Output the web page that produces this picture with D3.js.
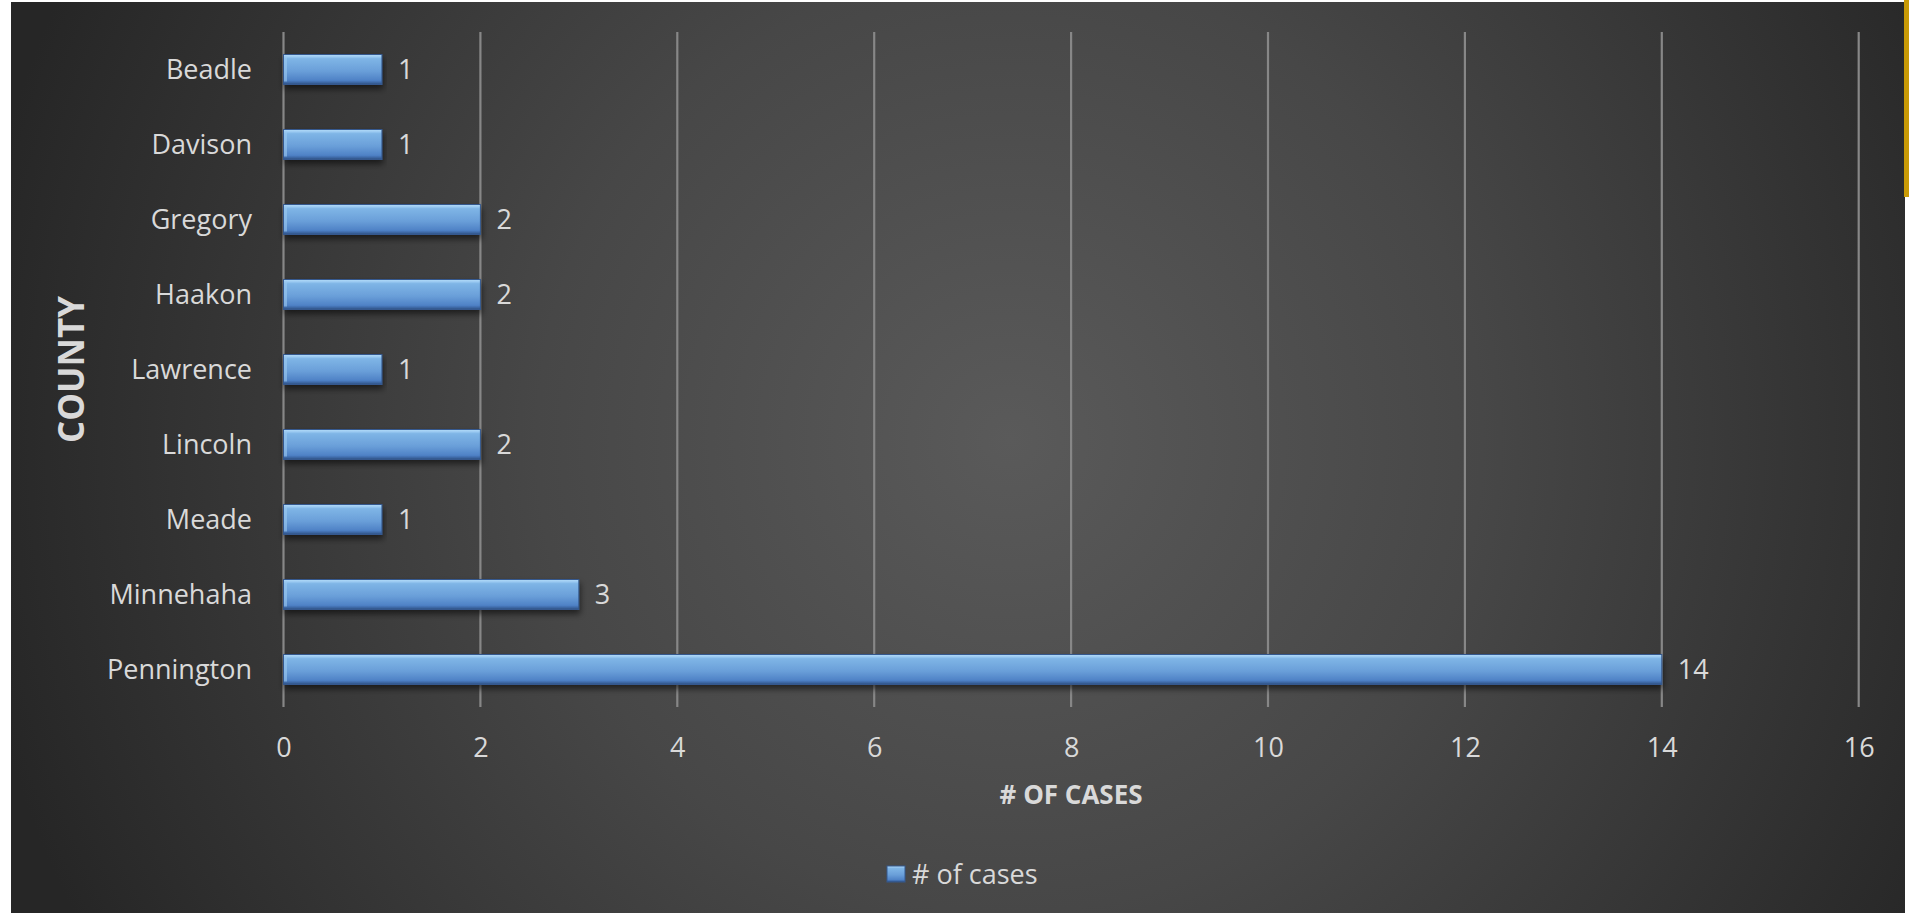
<!DOCTYPE html>
<html>
<head>
<meta charset="utf-8">
<script src="https://cdn.jsdelivr.net/npm/d3@7"></script>
<style>
html,body{margin:0;padding:0;background:#ffffff;overflow:hidden;}
svg{display:block;}
text{font-family:"Open Sans",sans-serif;fill:#d9d9d9;}
</style>
</head>
<body>
<script>
// ---- data ----
const counties = ["Beadle","Davison","Gregory","Haakon","Lawrence","Lincoln","Meade","Minnehaha","Pennington"];
const cases = [1,1,2,2,1,2,1,3,14];
const xTicks = [0,2,4,6,8,10,12,14,16];
const seriesName = "# of cases";
const xTitle = "# OF CASES";
const yTitle = "COUNTY";

const W = 1909, H = 913;
const svg = d3.select("body").append("svg").attr("width", W).attr("height", H);
const defs = svg.append("defs");

// background gradient
const rg = defs.append("radialGradient").attr("id","bg")
  .attr("gradientUnits","userSpaceOnUse").attr("cx",1010).attr("cy",440).attr("r",1050);
rg.append("stop").attr("offset","0%").attr("stop-color","#5a5a5a");
rg.append("stop").attr("offset","45%").attr("stop-color","#474747");
rg.append("stop").attr("offset","100%").attr("stop-color","#262626");

// bar gradient
const bg = defs.append("linearGradient").attr("id","bar").attr("x1",0).attr("y1",0).attr("x2",0).attr("y2",1);
[["0%","#b4dcf8"],["7%","#9dcbf2"],["14%","#7fb5e6"],["55%","#6a9fd9"],["86%","#4f82c6"],["92%","#3f6cac"],["100%","#2d4e80"]]
  .forEach(([o,c])=>bg.append("stop").attr("offset",o).attr("stop-color",c));

const sh = defs.append("filter").attr("id","shadow").attr("x","-5%").attr("y","-50%").attr("width","110%").attr("height","220%");
sh.append("feDropShadow").attr("dx",1).attr("dy",4).attr("stdDeviation",3).attr("flood-color","#000").attr("flood-opacity",0.55);

// chart area
svg.append("rect").attr("x",11).attr("y",2).attr("width",1894).attr("height",H-2).attr("fill","url(#bg)");
svg.append("rect").attr("x",1904).attr("y",0).attr("width",5).attr("height",197).attr("fill","#c99a06");

const plot = {left:283.5, right:1858.7, top:32, bottom:707};
const x = d3.scaleLinear().domain([0,16]).range([plot.left, plot.right]);
const y = d3.scaleBand().domain(counties).range([plot.top, plot.bottom]).paddingInner(0.6).paddingOuter(0.3);

// gridlines
svg.append("g").selectAll("line").data(xTicks).join("line")
  .attr("x1",d=>x(d)).attr("x2",d=>x(d)).attr("y1",plot.top).attr("y2",plot.bottom)
  .attr("stroke","#878787").attr("stroke-width",2.2);

// bars
svg.append("g").selectAll("rect").data(counties).join("rect")
  .attr("x",x(0)).attr("y",d=>y(d))
  .attr("width",(d,i)=>x(cases[i])-x(0)).attr("height",y.bandwidth())
  .attr("fill","url(#bar)").attr("stroke","#35598e").attr("stroke-width",1)
  .attr("filter","url(#shadow)");
// bevel highlight on left edge
svg.append("g").selectAll("rect").data(counties).join("rect")
  .attr("x",x(0)+0.5).attr("y",d=>y(d)+2)
  .attr("width",3).attr("height",y.bandwidth()-5)
  .attr("fill","#9ccaf0").attr("opacity",0.6);

// value labels
svg.append("g").selectAll("text").data(counties).join("text")
  .attr("x",(d,i)=>x(cases[i])+16).attr("y",d=>y(d)+y.bandwidth()/2).attr("dy","0.36em")
  .style("font-size","27px").text((d,i)=>cases[i]);

// category axis labels
svg.append("g").selectAll("text").data(counties).join("text")
  .attr("x",252).attr("y",d=>y(d)+y.bandwidth()/2).attr("dy","0.36em")
  .attr("text-anchor","end").style("font-size","27px").text(d=>d);

// x axis tick labels via d3 axis
const xAxis = d3.axisBottom(x).tickValues(xTicks).tickSize(0).tickPadding(0).tickFormat(d3.format("d"));
const gx = svg.append("g").attr("transform",`translate(0,${plot.bottom})`).call(xAxis);
gx.select(".domain").remove();
gx.selectAll("text").attr("y",40).attr("dy","0.36em").style("font-size","27px")
  .style("font-family","'Open Sans',sans-serif").attr("fill","#d9d9d9");

// axis titles
svg.append("text").attr("x",(plot.left+plot.right)/2).attr("y",795).attr("dy","0.36em")
  .attr("text-anchor","middle").style("font-size","26px").style("font-weight","700").text(xTitle);
svg.append("text").attr("transform",`translate(71,${(plot.top+plot.bottom)/2}) rotate(-90)`)
  .attr("text-anchor","middle").attr("dy","0.36em")
  .style("font-size","35px").style("font-weight","700").text(yTitle);

// legend
const lg = svg.append("g");
lg.append("rect").attr("x",887).attr("y",866).attr("width",18).attr("height",16)
  .attr("fill","url(#bar)").attr("stroke","#35598e").attr("stroke-width",1);
lg.append("text").attr("x",912).attr("y",874).attr("dy","0.36em").style("font-size","27px").text(seriesName);
</script>
</body>
</html>
